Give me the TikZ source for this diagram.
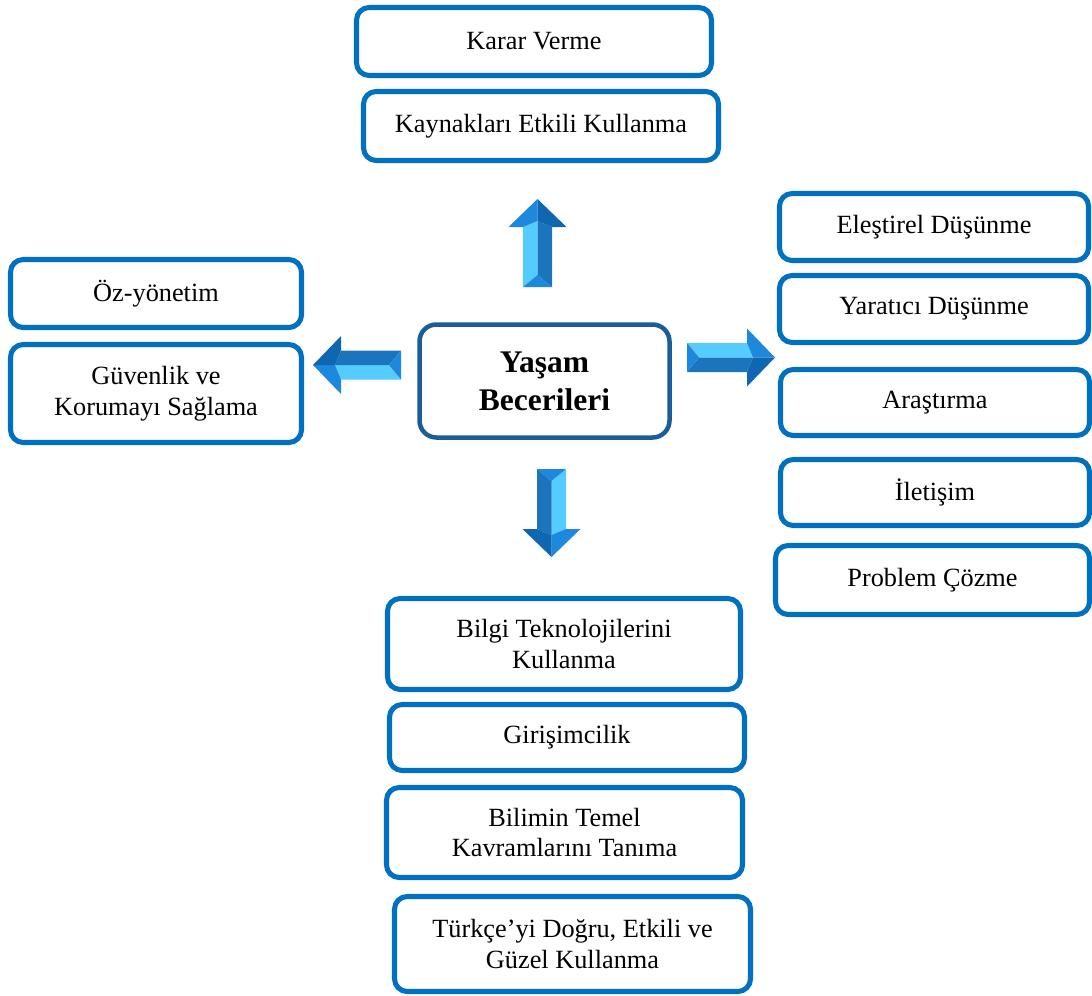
\documentclass[tikz,border=0pt]{standalone}
\usepackage{fontspec}
\setmainfont{Liberation Serif}
\definecolor{boxblue}{HTML}{0070C0}
\definecolor{hubblue}{HTML}{1B5C9A}
\definecolor{arlight}{HTML}{55CCFF}
\definecolor{ardark}{HTML}{1C75BC}
\definecolor{armid}{HTML}{1E88DC}
\definecolor{ardeep}{HTML}{0F67B2}
\tikzset{
  box/.style={draw=boxblue, line width=3.6pt, rounded corners=9pt, fill=white,
    align=center, inner sep=2pt, font=\fontsize{18.7}{22}\selectfont},
  boxsize/.style 2 args={minimum width=#1*0.025cm, minimum height=#2*0.025cm},
  hub/.style={draw=hubblue, line width=3.2pt, rounded corners=12pt, fill=white,
    align=center, font=\fontsize{22.4}{27}\selectfont\bfseries}
}
\newcommand{\blockarrow}[2]{%
  \begin{scope}[shift={(#1)}, rotate=#2]
    \fill[arlight] (0,14.5) -- (12,0) -- (66,0) -- (60,14.5) -- cycle;
    \fill[ardark] (0,-14.5) -- (12,0) -- (66,0) -- (60,-14.5) -- cycle;
    \fill[armid] (0,14.5) -- (12,0) -- (0,-14.5) -- cycle;
    \fill[armid] (60,14.5) -- (60,29) -- (88,0) -- (66,0) -- cycle;
    \fill[ardeep] (60,-14.5) -- (60,-29) -- (88,0) -- (66,0) -- cycle;
  \end{scope}}
\begin{document}
\begin{tikzpicture}[x=0.025cm, y=0.025cm]
  \useasboundingbox (0,0) rectangle (1092,-995);

  \node[hub, boxsize={250}{113}] (hub) at (544.5,-381) {Yaşam\\Becerileri};

  \node[box, boxsize={355}{68}] (karar) at (534,-41.5) {Karar Verme};
  \node[box, boxsize={355}{69}] (kaynak) at (541,-126) {Kaynakları Etkili Kullanma};

  \node[box, boxsize={309}{67}] (elestirel) at (934,-227) {Eleştirel Düşünme};
  \node[box, boxsize={309}{67}] (yaratici) at (934,-309) {Yaratıcı Düşünme};
  \node[box, boxsize={309}{66}] (arastirma) at (935,-402.5) {Araştırma};
  \node[box, boxsize={309}{66}] (iletisim) at (935,-492.5) {İletişim};
  \node[box, boxsize={314}{69}] (problem) at (932.5,-580) {Problem Çözme};

  \node[box, boxsize={291}{68}] (oz) at (156,-293.5) {Öz-yönetim};
  \node[box, boxsize={291}{98}] (guvenlik) at (156,-393.5) {Güvenlik ve\\Korumayı Sağlama};

  \node[box, boxsize={353}{91}] (bilgi) at (564,-644) {Bilgi Teknolojilerini\\Kullanma};
  \node[box, boxsize={355}{66}] (girisim) at (567,-737.5) {Girişimcilik};
  \node[box, boxsize={356}{90}] (bilim) at (564.5,-832.5) {Bilimin Temel\\Kavramlarını Tanıma};
  \node[box, boxsize={356}{95}] (turkce) at (572.5,-944) {Türkçe’yi Doğru, Etkili ve\\Güzel Kullanma};

  \coordinate (upTail) at (537.5,-287);
  \coordinate (leftTail) at (401,-365);
  \coordinate (rightTail) at (687,-357.5);
  \coordinate (downTail) at (551.5,-469);
  \blockarrow{upTail}{90}
  \blockarrow{leftTail}{180}
  \blockarrow{rightTail}{0}
  \blockarrow{downTail}{-90}
\end{tikzpicture}
\end{document}
